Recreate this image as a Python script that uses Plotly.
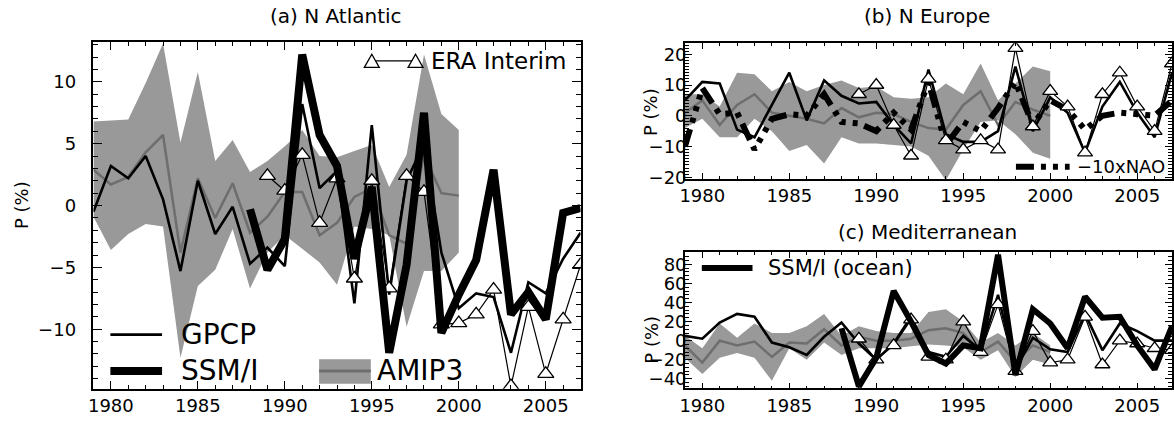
import plotly.graph_objects as go

W, H = 1174, 430
FONT = "DejaVu Sans"

years = list(range(1979, 2008))
amip_years = list(range(1979, 2001))
ssmi_years = list(range(1988, 2008))
era_years = list(range(1989, 2008))

# ---------------- (a) N Atlantic ----------------
na_gpcp = [-0.5, 3.2, 2.2, 4.0, 0.5, -5.3, 2.0, -2.3, -0.1, -4.7, -3.4, -4.9, 8.2, 1.4,
           2.8, -7.9, 6.5, -7.2, 2.0, 5.0, -3.8, -8.3, -7.1, -7.4, -11.9, -6.2, -7.1, -4.3, -2.2]
na_ssmi = [-0.3, -5.2, -2.7, 12.2, 5.7, 3.2, -4.3, 1.5, -11.9, -4.8, 7.5, -10.3, -7.2, -4.4,
           2.9, -8.8, -7.0, -9.2, -0.6, -0.2]
na_era = [2.4, 1.2, 4.1, -1.4, 2.2, -5.9, 2.0, -6.7, 2.4, 1.1, -9.6, -9.5, -8.8, -6.8,
          -14.6, -8.2, -13.6, -9.2, -4.8]
na_amip_hi = [6.8, 6.9, 6.95, 9.9, 13.1, 5.1, 10.8, 3.6, 5.3, 2.7, 3.6, 4.8, 6.1, 4.0,
              3.9, 4.4, 4.9, 1.5, 4.1, 12.2, 7.4, 6.1]
na_amip_lo = [-0.9, -3.6, -2.3, -1.5, -1.7, -12.3, -6.5, -5.2, -1.9, -6.7, -3.8, -2.4, -3.5,
              -4.6, -6.4, -1.7, -1.9, -2.4, -9.8, -5.3, -5.3, -3.8]
na_amip_mean = [2.9, 1.7, 2.3, 4.3, 5.7, -3.8, 2.2, -1.0, 1.8, -2.2, -0.9, 1.1, 1.1, -2.4,
                -1.4, 0.7, 1.4, -2.4, -3.1, 4.1, 1.0, 0.8]

# ---------------- (b) N Europe ----------------
ne_gpcp = [5, 11, 10.5, -4.5, -7, 3.5, 14, -1.5, 11.5, 6.5, 4, 4.5, -3, -9, 15, -6, -8.5,
           -8.5, -5, 16, -5, 6, 1, -12, 3, 11, 1, -7, 14]
ne_era = [7, 10, -3, -13, 12, -8, -11, -8, -11, 22, -3.5, 8, 3, -12, 7, 14, 3, -5, 17]
ne_nao = [-10, 9, 0.5, 1, -11, -1, 0.5, 0, 7, -2, -2.5, -5, 1, -4.5, 11, -9.5, -2, -5, 2.5,
          11, -3, 5, 2, -4.5, 0, 1, 0.5, 0, 5]
ne_amip_hi = [7, 7, 3, 14, 13.5, 8, 11, 8, 10, 11.5, 9, 9.5, 6, 5.5, 6, 10.5, 7, 17, 5,
              10.5, 16, 14.5]
ne_amip_lo = [-4, -1, -7, -7, -1, -5, -11.5, -9.5, -15.5, -7, -9, -9, -9.5, -10, -13, -21,
              -11, -2, -1.5, -6, -12, -14]
ne_amip_mean = [1, 5, -3, 3.5, 7, 1, 0, -1, -2.5, 2.5, -0.5, 1, 0.5, -2, -4, -4.5, 3.5, 8,
                -3, 4.5, 2, 0]

# ---------------- (c) Mediterranean ----------------
med_gpcp = [5, 2, 19, 28, 25, -2, -7, -15, 4, 19, -3, -20, -3, 25, -12, -17, 5, -10, 48,
            -30, 3, -9, -12, 28, -10, 18, 10, 0, 0]
med_ssmi = [13, -48, -18, 52, 20, -15, -24, -5, -8, 90, -36, 33, 18, -8, 46, 24, 25, -5, -30, 15]
med_era = [2, -20, -5, 22, -17, -20, 20, -12, 38, -32, 10, -23, -20, 25, -25, 0, -3, -8, -10]
med_amip_hi = [5, -8, 18, 3, 18, 8, 8, 15, 28, 5, 15, 10, 8, 8, 30, 33, 20, -2, 8, -5, 8, -5]
med_amip_lo = [-18, -35, -18, -13, -18, -42, -8, -20, -2, -15, -8, -8, -8, -6, -4, -5, -7,
               -20, -10, -38, -20, -25]
med_amip_mean = [-5, -23, 0, -5, -1, -17, -2, -3, 12, -5, 4, 0, 0, 2, 11, 13, 8, -12, -1,
                 -22, -5, -12]

BAND = "#999999"
MEAN = "#6e6e6e"

fig = go.Figure()


def add_band(xa, ya, lo, hi, mean):
    fig.add_trace(go.Scatter(x=amip_years, y=lo, mode="lines", line=dict(width=0),
                             xaxis=xa, yaxis=ya, showlegend=False, hoverinfo="skip"))
    fig.add_trace(go.Scatter(x=amip_years, y=hi, mode="lines", line=dict(width=0),
                             fill="tonexty", fillcolor=BAND, xaxis=xa, yaxis=ya,
                             showlegend=False, hoverinfo="skip"))
    fig.add_trace(go.Scatter(x=amip_years, y=mean, mode="lines",
                             line=dict(color=MEAN, width=2.5), xaxis=xa, yaxis=ya,
                             showlegend=False))


def add_line(xa, ya, x, y, width, dash="solid"):
    fig.add_trace(go.Scatter(x=x, y=y, mode="lines",
                             line=dict(color="black", width=width, dash=dash),
                             xaxis=xa, yaxis=ya, showlegend=False))


def add_era(xa, ya, y, size=14):
    fig.add_trace(go.Scatter(x=era_years, y=y, mode="lines+markers",
                             line=dict(color="black", width=1.2),
                             marker=dict(symbol="triangle-up", size=size, color="white",
                                         line=dict(color="black", width=1.3)),
                             xaxis=xa, yaxis=ya, showlegend=False))


NAO_DASH = "18px,7px,5px,7px,5px,7px,5px,7px"

# panel a
add_band("x", "y", na_amip_lo, na_amip_hi, na_amip_mean)
add_line("x", "y", years, na_gpcp, 2.6)
add_era("x", "y", na_era)
add_line("x", "y", ssmi_years, na_ssmi, 8)

# panel b
add_band("x2", "y2", ne_amip_lo, ne_amip_hi, ne_amip_mean)
add_line("x2", "y2", years, ne_nao, 6, dash=NAO_DASH)
add_line("x2", "y2", years, ne_gpcp, 2.6)
add_era("x2", "y2", ne_era, size=13)

# panel c
add_band("x3", "y3", med_amip_lo, med_amip_hi, med_amip_mean)
add_line("x3", "y3", years, med_gpcp, 2.6)
add_era("x3", "y3", med_era, size=13)
add_line("x3", "y3", ssmi_years, med_ssmi, 6)


def xaxis(domain, anchor, major=8, minor=4):
    return dict(domain=domain, anchor=anchor, range=[1979, 2007], tick0=1980, dtick=5,
                ticks="inside", ticklen=major, tickwidth=1.2, tickcolor="black",
                showline=True, linecolor="black", linewidth=1.5, mirror="allticks",
                showgrid=False, zeroline=False,
                tickfont=dict(family=FONT, size=18, color="black"),
                minor=dict(dtick=1, ticks="inside", ticklen=minor, tickcolor="black",
                           tickwidth=1, showgrid=False))


def yaxis(domain, anchor, rng, dtick, mdtick, major=9, minor=5, standoff=0):
    return dict(domain=domain, anchor=anchor, range=rng, tick0=0, dtick=dtick,
                ticks="inside", ticklen=major, tickwidth=1.2, tickcolor="black",
                showline=True, linecolor="black", linewidth=1.5, mirror="allticks",
                showgrid=False, zeroline=False, ticklabelstandoff=standoff,
                tickfont=dict(family=FONT, size=18, color="black"),
                minor=dict(dtick=mdtick, ticks="inside", ticklen=minor, tickcolor="black",
                           tickwidth=1, showgrid=False))


def fx(x):
    return x / W


def fy(y):
    return 1 - y / H


xa_dom = [fx(89), fx(579)]
xb_dom = [fx(684), 1.0]

layout = dict(
    width=W, height=H, margin=dict(l=0, r=0, t=0, b=0),
    paper_bgcolor="white", plot_bgcolor="white", showlegend=False,
    xaxis=xaxis(xa_dom, "y"),
    yaxis=yaxis([fy(396), fy(43)], "x", [-14.8, 13.2], 5, 1, standoff=12),
    xaxis2=xaxis(xb_dom, "y2", 6, 3),
    yaxis2=yaxis([fy(182.5), fy(44)], "x2", [-20.6, 23.6], 10, 1, 7, 4, standoff=-7),
    xaxis3=xaxis(xb_dom, "y3", 6, 3),
    yaxis3=yaxis([fy(395.7), fy(256.7)], "x3", [-50, 93], 20, 4, 7, 4, standoff=-7),
)
fig.update_layout(**layout)

ann = []


def text(x, y, s, size, xanchor="center", angle=0):
    ann.append(dict(x=fx(x), y=fy(y), xref="paper", yref="paper", text=s, showarrow=False,
                    xanchor=xanchor, yanchor="middle", textangle=angle,
                    font=dict(family=FONT, size=size, color="black")))


text(333, 16, "(a) N Atlantic", 20)
text(928, 16, "(b) N Europe", 20)
text(928, 236, "(c) Mediterranean", 20)
text(16, 209, "P (%)", 18, angle=-90)
text(650, 114, "P (%)", 18, angle=-90)
text(650, 346, "P (%)", 18, angle=-90)

# legend texts
text(175, 341, "GPCP", 28, "left")
text(175, 378, "SSM/I", 28, "left")
text(372, 378, "AMIP3", 28, "left")
text(427, 62, "ERA Interim", 23, "left")
text(1076, 170, "\u221210xNAO", 18, "left")
text(766, 273, "SSM/I (ocean)", 21, "left")

shapes = []


def hline(x0, x1, y, width, color="black", dash="solid"):
    shapes.append(dict(type="line", xref="paper", yref="paper", x0=fx(x0), x1=fx(x1),
                       y0=fy(y), y1=fy(y), line=dict(color=color, width=width, dash=dash)))


def tri(cx, cy, s=15):
    h = s * 0.9
    p = "M {:.5f},{:.5f} L {:.5f},{:.5f} L {:.5f},{:.5f} Z".format(
        fx(cx - s / 2), fy(cy + h / 2), fx(cx + s / 2), fy(cy + h / 2), fx(cx), fy(cy - h / 2))
    shapes.append(dict(type="path", xref="paper", yref="paper", path=p,
                       fillcolor="white", line=dict(color="black", width=1.3)))


hline(106, 158, 341, 2.6)
hline(106, 158, 378, 8)
shapes.append(dict(type="rect", xref="paper", yref="paper", x0=fx(316), x1=fx(368),
                   y0=fy(391), y1=fy(366), fillcolor=BAND, line=dict(width=0)))
hline(316, 368, 378, 3, MEAN)
hline(369, 413, 62, 1.2)
tri(369, 62)
tri(413, 62)
hline(1017, 1071, 170, 6, dash=NAO_DASH)
hline(701, 752, 273, 6)

fig.update_layout(annotations=ann, shapes=shapes)
fig.write_html("out.html", config={"displayModeBar": False},
               post_script="document.body.style.margin='0';document.body.style.overflow='hidden';")
